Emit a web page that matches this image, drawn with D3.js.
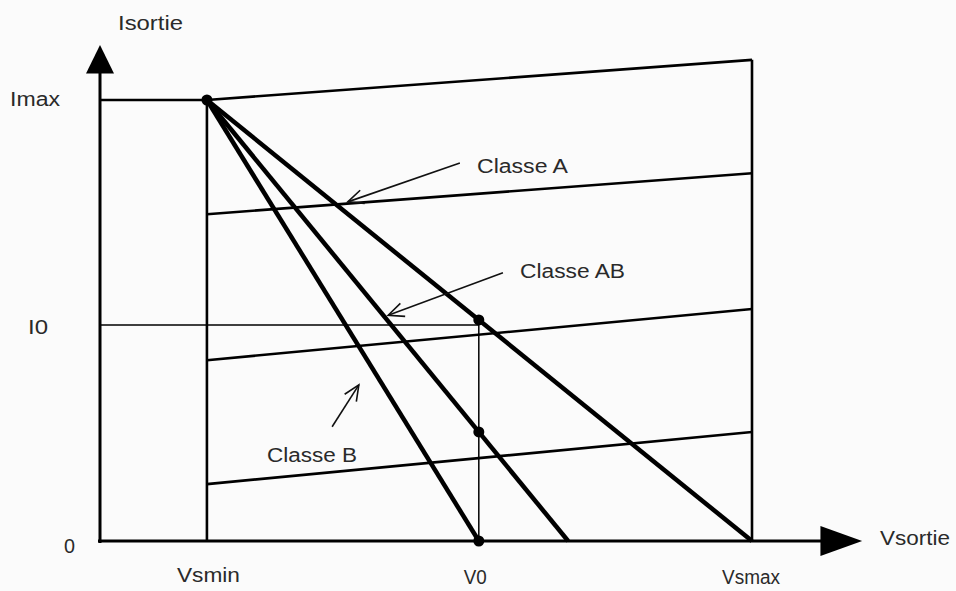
<!DOCTYPE html>
<html>
<head>
<meta charset="utf-8">
<style>
  body { margin: 0; background: #fbfbfb; }
  svg { display: block; }
  .lbl { font-family: "Liberation Sans", Arial, sans-serif; font-size: 20px; fill: #2a2a2a; }
  .axis { stroke: #000; stroke-width: 3; fill: none; }
  .curve { stroke: #000; stroke-width: 2.6; fill: none; }
  .load { stroke: #000; stroke-width: 4.5; fill: none; }
  .thin { stroke: #000; stroke-width: 1.5; fill: none; }
  .note { stroke: #111; stroke-width: 1.6; fill: none; }
</style>
<script src="https://cdn.jsdelivr.net/npm/d3@7"></script>
</head>
<body>
<svg width="956" height="591"></svg>
<script>
// voltage marks on the Vsortie axis (0..100 = 0..Vsmax)
var vLabels = ["Vsmin", "V0", "Vsmax"];
var vValues = [16.4, 58.1, 100];

// current marks on the Isortie axis (0..100 = 0..Imax)
var iLabels = ["0", "I0", "Imax"];
var iValues = [0, 49, 100];

// transistor output curves, value at Vsmin and at Vsmax
var curveStart = [100, 74.1, 41.0, 12.9];
var curveEnd = [109.1, 83.4, 52.6, 24.7];

// load lines from (Vsmin, Imax) down to the Vsortie axis
var loadNames = ["Classe A", "Classe AB", "Classe B"];
var loadEnd = [100, 71.8, 58.1];

// annotation arrows: tail and tip in data units
var noteTail = [[55.2, 85.7], [61.8, 60.8], [35.6, 25.9]];
var noteTip = [[38.0, 76.9], [44.2, 51.2], [39.7, 35.4]];

var svg = d3.select("svg");

var x = d3.scaleLinear().domain([0, 100]).range([100, 752]);
var y = d3.scaleLinear().domain([0, 100]).range([541, 100]);

var vsmin = vValues[0], v0 = vValues[1], vsmax = vValues[2];
var imax = iValues[2], i0 = iValues[1];

// axes with arrow heads
svg.append("line").attr("class", "axis")
    .attr("x1", x(0)).attr("y1", y(0) + 2)
    .attr("x2", x(0)).attr("y2", y(109));
svg.append("path")
    .attr("d", "M" + x(0) + "," + y(112.5) + "L" + (x(0) - 14) + "," + y(106) + "L" + (x(0) + 14) + "," + y(106) + "Z")
    .attr("fill", "#000");

svg.append("line").attr("class", "axis")
    .attr("x1", x(0) - 2).attr("y1", y(0))
    .attr("x2", x(112)).attr("y2", y(0));
svg.append("path")
    .attr("d", "M" + x(116.9) + "," + y(0) + "L" + x(110.5) + "," + (y(0) - 15) + "L" + x(110.5) + "," + (y(0) + 15) + "Z")
    .attr("fill", "#000");

// Imax level up to Vsmin
svg.append("line").attr("class", "curve")
    .attr("x1", x(0)).attr("y1", y(imax))
    .attr("x2", x(vsmin)).attr("y2", y(imax));

// Vsmin and Vsmax verticals
svg.append("line").attr("class", "curve")
    .attr("x1", x(vsmin)).attr("y1", y(imax))
    .attr("x2", x(vsmin)).attr("y2", y(0));
svg.append("line").attr("class", "curve")
    .attr("x1", x(vsmax)).attr("y1", y(curveEnd[0]))
    .attr("x2", x(vsmax)).attr("y2", y(0));

// output curves
svg.selectAll(".out").data(curveStart).enter().append("line")
    .attr("class", "curve out")
    .attr("x1", x(vsmin)).attr("y1", function(d) { return y(d); })
    .attr("x2", x(vsmax)).attr("y2", function(d, i) { return y(curveEnd[i]); });

// quiescent point guides
svg.append("line").attr("class", "thin")
    .attr("x1", x(0)).attr("y1", y(i0))
    .attr("x2", x(v0)).attr("y2", y(i0));
svg.append("line").attr("class", "thin")
    .attr("x1", x(v0)).attr("y1", y(i0))
    .attr("x2", x(v0)).attr("y2", y(0));

// load lines
svg.selectAll(".load").data(loadEnd).enter().append("line")
    .attr("class", "load")
    .attr("x1", x(vsmin)).attr("y1", y(imax))
    .attr("x2", function(d) { return x(d); }).attr("y2", y(0));

// points: start, and where each load line meets V0
var dots = [[vsmin, imax]];
loadEnd.forEach(function(e) {
    dots.push([v0, imax * (1 - (v0 - vsmin) / (e - vsmin))]);
});
svg.selectAll(".dot").data(dots).enter().append("circle")
    .attr("class", "dot")
    .attr("cx", function(d) { return x(d[0]); })
    .attr("cy", function(d) { return y(d[1]); })
    .attr("r", 5.5)
    .attr("fill", "#000");

// annotation arrows
noteTail.forEach(function(t, i) {
    var p = noteTip[i];
    var x1 = x(t[0]), y1 = y(t[1]), x2 = x(p[0]), y2 = y(p[1]);
    var a = Math.atan2(y2 - y1, x2 - x1);
    svg.append("line").attr("class", "note")
        .attr("x1", x1).attr("y1", y1).attr("x2", x2).attr("y2", y2);
    var h = 17, w = 0.42;
    svg.append("path").attr("class", "note")
        .attr("stroke-width", 3.2)
        .attr("d", "M" + (x2 - h * Math.cos(a - w)) + "," + (y2 - h * Math.sin(a - w)) +
            "L" + x2 + "," + y2 +
            "L" + (x2 - h * Math.cos(a + w)) + "," + (y2 - h * Math.sin(a + w)));
});

function label(txt, px, py, len) {
    svg.append("text").attr("class", "lbl")
        .attr("x", px).attr("y", py)
        .attr("textLength", len).attr("lengthAdjust", "spacingAndGlyphs")
        .text(txt);
}

// class labels
label(loadNames[0], 477, 173, 91);
label(loadNames[1], 520, 278, 105);
label(loadNames[2], 267, 462, 90);

// axis titles
label("Isortie", 118, 30, 65);
label("Vsortie", 880, 545, 70);

// current labels
label(iLabels[2], 10, y(imax) + 6, 50);
label(iLabels[1], 28, y(i0) + 9, 20);
label(iLabels[0], 64, y(0) + 12, 11);

// voltage labels
label(vLabels[0], x(vsmin) - 30, 582, 63);
label(vLabels[1], x(v0) - 15, 584, 23);
label(vLabels[2], x(vsmax) - 30, 584, 58);
</script>
</body>
</html>
